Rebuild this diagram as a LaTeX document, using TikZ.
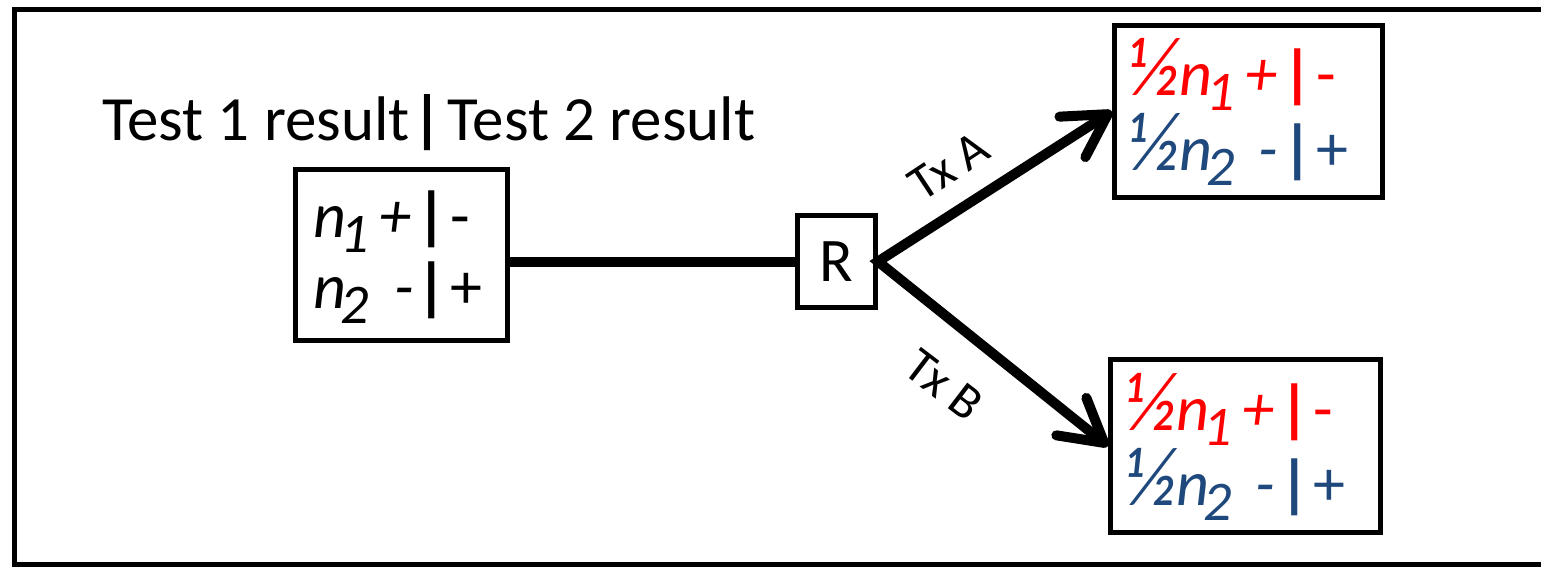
\documentclass[tikz,border=0pt]{standalone}
\usepackage{fontspec}
\usepackage{graphicx}
\setmainfont{Carlito}
\usetikzlibrary{arrows.meta}
\definecolor{myred}{RGB}{255,0,0}
\definecolor{myblue}{RGB}{31,73,125}
\newcommand{\sbx}[1]{\hspace{-6pt}\raisebox{-15pt}{\fontsize{56}{56}\selectfont\itshape #1}}
\newcommand{\hf}{\scalebox{1.15}[1.32]{½}}
\newcommand{\vb}{{\bfseries|}}
\newcommand{\tline}[5]{\hbox to #1{#2\hfill#3\hspace{#4}}\vb\hspace{4pt}#5}
\begin{document}
\begin{tikzpicture}[x=1pt,y=-1pt,
  box/.style={draw, line width=5pt, rectangle, inner sep=0pt},
  txt/.style={inner sep=0pt, anchor=base west, font=\fontsize{64}{64}\selectfont},
  lbl/.style={inner sep=0pt, font=\fontsize{50}{50}\selectfont},
  conn/.style={line width=10pt},
  arr/.style={line width=10pt, line join=miter,
    {Straight Barb[length=42pt,width=48pt,round]}-{Straight Barb[length=42pt,width=48pt,round]}}]
\useasboundingbox (0,0) rectangle (1541,566);
\draw[line width=5pt] (1560,9) -| (14,564) -- (1560,564);

\node[txt, font=\fontsize{63}{63}\selectfont] (hdr) at (102,140) {Test 1 result\hspace{3pt}\vb\hspace{5pt}Test 2 result};

\node[box, minimum width=212pt, minimum height=171pt] (b1) at (401.5,255) {};
\node[box, minimum width=78pt, minimum height=92pt, font=\fontsize{62}{62}\selectfont] (R) at (836.5,261.5) {R};
\node[box, minimum width=268pt, minimum height=172pt] (pa) at (1248.5,111.5) {};
\node[box, minimum width=270pt, minimum height=173pt] (pb) at (1245.5,446) {};

\node[txt] (b1l1) at (313,237) {\tline{103pt}{\itshape n\sbx{1}}{+}{5pt}{-}};
\node[txt] (b1l2) at (313,308) {\tline{103pt}{\itshape n\sbx{2}}{-}{2pt}{+}};

\node[txt, text=myred] (pal1) at (1130,95) {\tline{152pt}{\itshape \hf n\sbx{1}}{+}{5pt}{-}};
\node[txt, text=myblue] (pal2) at (1130,170) {\tline{152pt}{\itshape \hf n\sbx{2}}{-}{4pt}{+}};
\node[txt, text=myred] (pbl1) at (1127,430) {\tline{152pt}{\itshape \hf n\sbx{1}}{+}{5pt}{-}};
\node[txt, text=myblue] (pbl2) at (1127,505) {\tline{152pt}{\itshape \hf n\sbx{2}}{-}{4pt}{+}};

\draw[conn] (b1.east |- R.west) -- (R.west);
\draw[arr] (pa.west) -- (R.east) -- (pb.west);

\node[lbl, rotate=33.4] (ta) at (949,166) {Tx A};
\node[lbl, rotate=-37.3] (tb) at (944,385) {Tx B};
\end{tikzpicture}
\end{document}
